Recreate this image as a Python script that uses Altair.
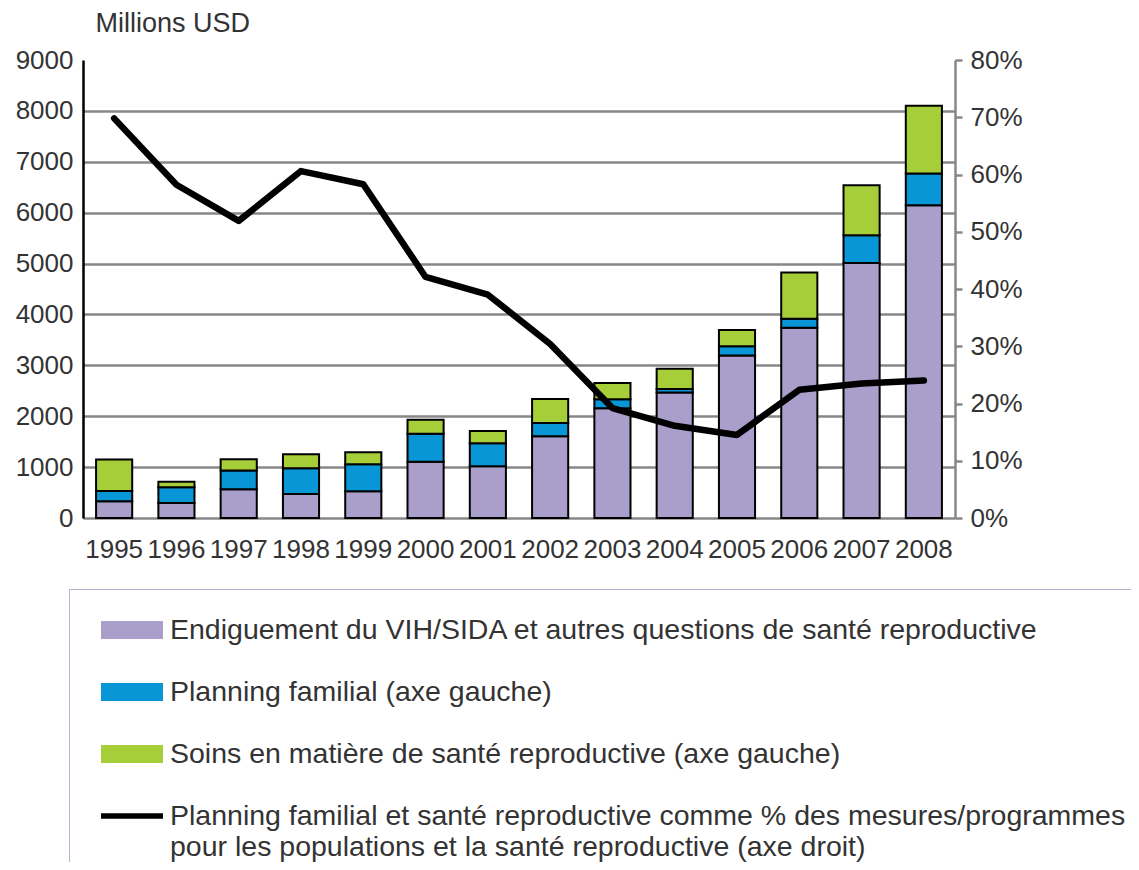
import altair as alt
import pandas as pd

years = ["1995", "1996", "1997", "1998", "1999", "2000", "2001",
         "2002", "2003", "2004", "2005", "2006", "2007", "2008"]
vih = [327, 296, 564, 473, 525, 1105, 1018, 1604, 2156, 2465, 3195, 3740, 5010, 6146]
planning = [206, 308, 369, 505, 532, 552, 453, 262, 177, 71, 178, 177, 544, 625]
soins = [617, 106, 223, 276, 237, 276, 237, 473, 322, 395, 321, 907, 986, 1328]
share_pct = [69.8, 58.2, 51.9, 60.6, 58.3, 42.1, 39.0, 30.4, 19.2, 16.1, 14.5, 22.4, 23.5, 24.0]

left_ticks = [0, 1000, 2000, 3000, 4000, 5000, 6000, 7000, 8000, 9000]
right_ticks = [0, 0.1, 0.2, 0.3, 0.4, 0.5, 0.6, 0.7, 0.8]

s_vih = "Endiguement du VIH/SIDA et autres questions de santé reproductive"
s_pf = "Planning familial (axe gauche)"
s_soins = "Soins en matière de santé reproductive (axe gauche)"
s_line = ("Planning familial et santé reproductive comme % des mesures/programmes|"
          "pour les populations et la santé reproductive (axe droit)")
series_names = [s_vih, s_pf, s_soins, s_line]

rows = []
for i, yr in enumerate(years):
    for k, (name, vals) in enumerate([(s_vih, vih), (s_pf, planning), (s_soins, soins)]):
        rows.append({"year": yr, "series": name, "value": vals[i], "k": k})
bars_df = pd.DataFrame(rows)
line_df = pd.DataFrame({"year": years, "share": [v / 100 for v in share_pct]})

FONT = "Liberation Sans, Arial, Helvetica, sans-serif"
NARROW = "Liberation Sans Narrow, Arial Narrow, Liberation Sans, sans-serif"
TXT = "#333333"
GRID = "#878787"

RECT = "M-1,-0.27H1V0.27H-1Z"
LINE = "M-1,-0.06H1V0.06H-1Z"

color_scale = alt.Scale(domain=series_names,
                        range=["#A99FCA", "#0896D6", "#A6CE39", "#000000"])
shape_scale = alt.Scale(domain=series_names, range=[RECT, RECT, RECT, LINE])
outline_scale = alt.Scale(domain=series_names, range=["#000000"] * 4)

x_axis = alt.Axis(title=None, labelAngle=0, ticks=False, domain=False,
                  labelFont=NARROW, labelFontSize=26, labelColor=TXT, labelPadding=18)
x_enc = alt.X("year:N", sort=years,
              scale=alt.Scale(paddingInner=0.42, paddingOuter=0.21), axis=x_axis)

legend = alt.Legend(
    title=None, orient="none", legendX=-14, legendY=529, direction="vertical",
    symbolSize=3600, labelFont=FONT, labelFontSize=28.5, labelColor=TXT,
    labelOffset=7, symbolOffset=22, padding=10, rowPadding=16, labelLimit=2000,
    strokeColor="#B5B2CF",
    symbolStrokeColor="black", symbolStrokeWidth=2, symbolOpacity=1,
    labelExpr="split(datum.label, '|')",
)

left_axis = alt.Axis(
    title="Millions USD", titleAngle=0, titleAlign="left", titleBaseline="alphabetic",
    titleX=12, titleY=-29, titleFont=FONT, titleFontSize=27, titleFontWeight="normal",
    titleColor=TXT, values=left_ticks, format="d", labelFont=FONT, labelFontSize=26,
    labelColor=TXT, labelPadding=10, ticks=False, domainColor="black", domainWidth=2.5,
    grid=True, gridColor=GRID, gridWidth=2.5,
    gridOpacity={"condition": {"test": "datum.value >= 9000", "value": 0}, "value": 1},
)
y_left = alt.Y("value:Q", stack="zero", scale=alt.Scale(domain=[0, 9000], nice=False),
               axis=left_axis)

bars = alt.Chart(bars_df).mark_bar(strokeWidth=2).encode(
    x=x_enc,
    y=y_left,
    color=alt.Color("series:N", scale=color_scale, legend=legend),
    stroke=alt.Stroke("series:N", scale=outline_scale, legend=legend),
    order=alt.Order("k:Q", sort="ascending"),
)

keys = alt.Chart(bars_df).mark_point(filled=True, opacity=0, strokeWidth=2).encode(
    x=x_enc,
    y=y_left,
    color=alt.Color("series:N", scale=color_scale, legend=legend),
    shape=alt.Shape("series:N", scale=shape_scale, legend=legend),
    stroke=alt.Stroke("series:N", scale=outline_scale, legend=legend),
)

right_axis = alt.Axis(
    orient="right", title=None, format=".0%", values=right_ticks, grid=False,
    domainColor=GRID, domainWidth=2.5, tickColor=GRID, tickWidth=2.5, tickSize=7,
    labelPadding=8, labelFont=FONT, labelFontSize=26, labelColor=TXT,
)

line = alt.Chart(line_df).mark_line(strokeWidth=6.5, strokeCap="round", strokeJoin="round").encode(
    x=x_enc,
    y=alt.Y("share:Q", scale=alt.Scale(domain=[0, 0.8], nice=False), axis=right_axis),
    color=alt.datum(s_line),
)

chart = alt.layer(alt.layer(bars, keys), line).resolve_scale(y="independent").properties(
    width=872, height=458,
    autosize=alt.AutoSizeParams(type="none"),
    padding={"left": 75, "top": 52, "right": 176, "bottom": 344},
).configure_view(stroke=None)

chart.save("out.html", embed_options={"renderer": "svg", "actions": False})
